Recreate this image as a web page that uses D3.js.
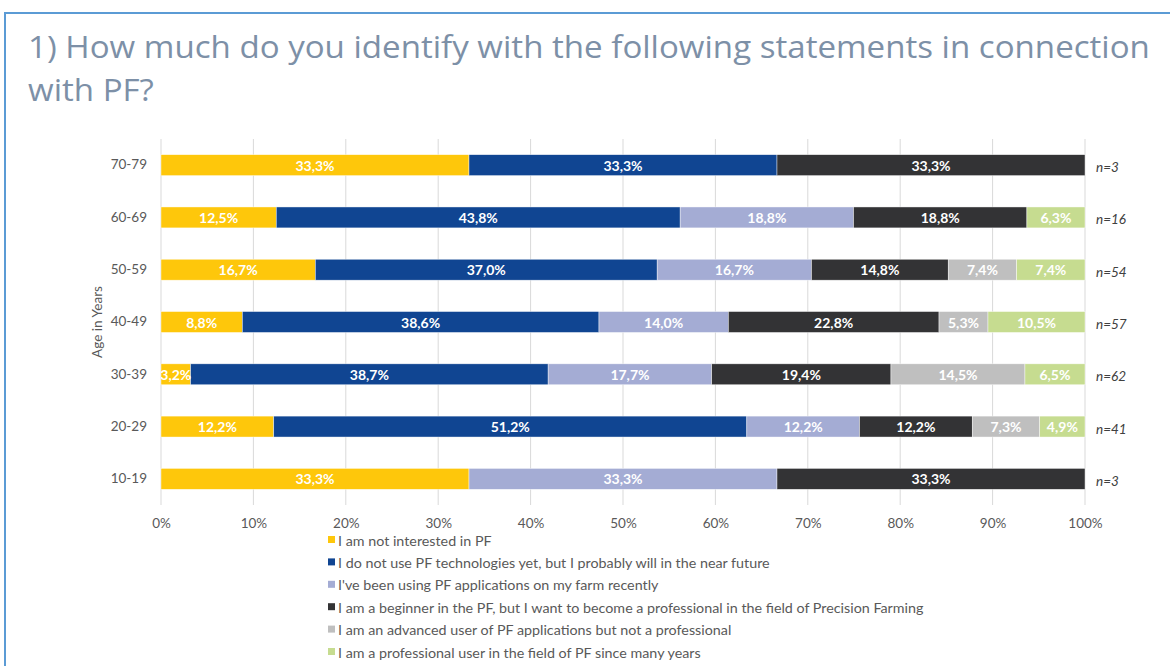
<!DOCTYPE html>
<html>
<head>
<meta charset="utf-8">
<script src="https://cdn.jsdelivr.net/npm/d3@7/dist/d3.min.js"></script>
<style>
  html, body { margin: 0; padding: 0; background: #fff; }
  svg { display: block; }
</style>
</head>
<body>
<svg id="chart" width="1170" height="666"></svg>
<script>
// Age groups (top to bottom) and the share of answers per statement, in %
const ageGroups      = ["70-79", "60-69", "50-59", "40-49", "30-39", "20-29", "10-19"];
const notInterested  = [33.3, 12.5, 16.7,  8.8,  3.2, 12.2, 33.3];
const willUseSoon    = [33.3, 43.8, 37.0, 38.6, 38.7, 51.2,  0.0];
const usingRecently  = [ 0.0, 18.8, 16.7, 14.0, 17.7, 12.2, 33.3];
const beginner       = [33.3, 18.8, 14.8, 22.8, 19.4, 12.2, 33.3];
const advancedUser   = [ 0.0,  0.0,  7.4,  5.3, 14.5,  7.3,  0.0];
const professional   = [ 0.0,  6.3,  7.4, 10.5,  6.5,  4.9,  0.0];
const sampleSizes    = [3, 16, 54, 57, 62, 41, 3];

const seriesNames = [
  "I am not interested in PF",
  "I do not use PF technologies yet, but I probably will in the near future",
  "I've been using PF applications on my farm recently",
  "I am a beginner in the PF, but I want to become a professional in the field of Precision Farming",
  "I am an advanced user of PF applications but not a professional",
  "I am a professional user in the field of PF since many years"
];
const seriesValues = [notInterested, willUseSoon, usingRecently, beginner, advancedUser, professional];
const seriesColors = ["#fec70b", "#104592", "#a4acd4", "#333335", "#bfbfbf", "#c6dc90"];
const xTickValues = [0, 0.1, 0.2, 0.3, 0.4, 0.5, 0.6, 0.7, 0.8, 0.9, 1.0];
const titleLines = ["1) How much do you identify with the following statements in connection", "with PF?"];
const yAxisTitle = "Age in Years";

const svg = d3.select("#chart");
const W = 1170, H = 666;
const FONT = "Lato, 'Open Sans', sans-serif";

// slide frame
svg.append("line").attr("x1", 4).attr("x2", W).attr("y1", 13).attr("y2", 13)
  .attr("stroke", "#5b9bd5").attr("stroke-width", 2);
svg.append("line").attr("x1", 5).attr("x2", 5).attr("y1", 12).attr("y2", H)
  .attr("stroke", "#5b9bd5").attr("stroke-width", 2);

// title, stretched slightly to the slide's title width
const titleG = svg.append("g").attr("transform", "translate(28,0) scale(1.085,1)");
const titleText = titleG.selectAll("text").data(titleLines).join("text")
  .attr("x", 0).attr("y", (d, i) => 58 + i * 43)
  .attr("font-family", "'Open Sans', sans-serif")
  .attr("font-size", 31)
  .attr("fill", "#7d90a7")
  .text(d => d);
const firstLen = titleText.node().getComputedTextLength();
if (firstLen > 0) titleG.attr("transform", `translate(28,0) scale(${1122 / firstLen},1)`);

// plot area
const plot = { left: 161, right: 1085, top: 139, bottom: 505 };

const x = d3.scaleLinear().domain([0, 1]).range([plot.left, plot.right]);
const y = d3.scaleBand().domain(ageGroups).range([plot.top, plot.bottom]).paddingInner(0.6).paddingOuter(0.3);

// table for stacking
const rows = ageGroups.map((g, i) => {
  const r = { group: g };
  seriesNames.forEach((s, k) => r[s] = seriesValues[k][i]);
  return r;
});
const stacked = d3.stack().keys(seriesNames).offset(d3.stackOffsetExpand)(rows);

// gridlines
svg.append("g").selectAll("line").data(xTickValues).join("line")
  .attr("x1", d => x(d)).attr("x2", d => x(d))
  .attr("y1", plot.top).attr("y2", plot.bottom)
  .attr("stroke", "#d9d9d9").attr("stroke-width", 1);

// x axis labels
const xAxis = d3.axisBottom(x).tickValues(xTickValues).tickFormat(d3.format(".0%")).tickSize(0).tickPadding(13);
const gx = svg.append("g").attr("transform", `translate(0,${plot.bottom})`).call(xAxis);
gx.select(".domain").remove();
gx.selectAll("text").attr("font-family", FONT).attr("font-size", 13.5).attr("fill", "#595959");

// y axis labels
const yAxis = d3.axisLeft(y).tickSize(0).tickPadding(14);
const gy = svg.append("g").attr("transform", `translate(${plot.left},0)`).call(yAxis);
gy.select(".domain").remove();
gy.selectAll("text").attr("font-family", FONT).attr("font-size", 13.5).attr("fill", "#595959");

// y axis title
svg.append("text")
  .attr("transform", `translate(97,${(plot.top + plot.bottom) / 2}) rotate(-90)`)
  .attr("text-anchor", "middle").attr("dominant-baseline", "central")
  .attr("font-family", FONT).attr("font-size", 13.5).attr("fill", "#595959")
  .text(yAxisTitle);

// bars
const layers = svg.append("g").selectAll("g").data(stacked).join("g")
  .attr("fill", (d, i) => seriesColors[i]);
layers.selectAll("rect").data(d => d).join("rect")
  .attr("x", d => x(d[0]))
  .attr("width", d => Math.max(0, x(d[1]) - x(d[0])))
  .attr("y", d => y(d.data.group))
  .attr("height", y.bandwidth())
  .attr("stroke", "#ffffff").attr("stroke-width", 0.6).attr("stroke-opacity", 0.7);

// value labels, clipped to the plot area
svg.append("clipPath").attr("id", "plotClip").append("rect")
  .attr("x", plot.left).attr("y", plot.top).attr("width", plot.right - plot.left).attr("height", plot.bottom - plot.top);
const fmt = v => d3.format(".1f")(v).replace(".", ",") + "%";
const labelG = svg.append("g").attr("clip-path", "url(#plotClip)");
stacked.forEach((layer, k) => {
  labelG.append("g").selectAll("text")
    .data(layer.filter(d => d.data[layer.key] > 0))
    .join("text")
    .attr("x", d => (x(d[0]) + x(d[1])) / 2)
    .attr("y", d => y(d.data.group) + y.bandwidth() / 2)
    .attr("text-anchor", "middle").attr("dominant-baseline", "central")
    .attr("font-family", FONT).attr("font-size", 14).attr("font-weight", "bold")
    .attr("fill", "#ffffff")
    .text(d => fmt(d.data[layer.key]));
});

// sample sizes
svg.append("g").selectAll("text").data(ageGroups).join("text")
  .attr("x", plot.right + 11)
  .attr("y", d => y(d) + y.bandwidth() / 2 + 2)
  .attr("dominant-baseline", "central")
  .attr("font-family", FONT).attr("font-size", 13.5).attr("font-style", "italic")
  .attr("fill", "#404040")
  .text((d, i) => "n=" + sampleSizes[i]);

// legend
const legend = svg.append("g").selectAll("g").data(seriesNames).join("g")
  .attr("transform", (d, i) => `translate(328,${540 + i * 22.4})`);
legend.append("rect").attr("x", 0).attr("y", -4).attr("width", 7).attr("height", 7)
  .attr("fill", (d, i) => seriesColors[i]);
legend.append("text").attr("x", 10).attr("y", 0).attr("dominant-baseline", "central")
  .attr("font-family", FONT).attr("font-size", 14.3).attr("fill", "#595959")
  .text(d => d);
</script>
</body>
</html>
